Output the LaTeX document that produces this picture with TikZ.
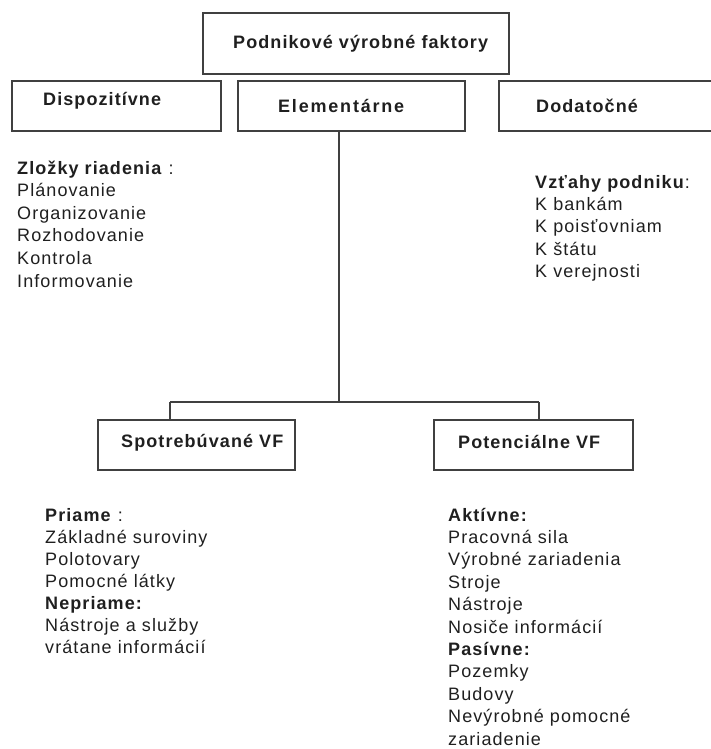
\documentclass[tikz,border=0pt]{standalone}
\usepackage{fontspec}
\setmainfont{Liberation Sans}[LetterSpace=6]
\begin{document}
\begin{tikzpicture}[x=1pt,y=-1pt,
  box/.style={draw=black!75,line width=1.4pt,inner sep=0pt,minimum width=#1,minimum height=50pt},
  box/.default=200pt,
  txt/.style={anchor=base west,inner sep=0pt,text=black!88,font=\fontsize{18}{22}\selectfont},
  hd/.style={txt,font=\fontsize{18}{22}\selectfont\bfseries},
  conn/.style={draw=black!75,line width=1.2pt}]
\useasboundingbox (0,0) rectangle (710,749);
% boxes
\node[box=306pt,minimum height=61pt] (top) at (356,43.5) {};
\node[box=209pt] (disp) at (116.5,106) {};
\node[box=227pt] (elem) at (351.5,106) {};
\node[box=221pt] (doda) at (609.5,106) {};
\node[box=197pt] (spot) at (196.5,445) {};
\node[box=199pt] (pot) at (533.5,445) {};
% box labels
\node[hd] (ttop) at (233,49) {Podnikové výrobné faktory};
\node[hd] (tdisp) at (43,106) {Dispozitívne};
\node[hd,font=\fontsize{18}{22}\selectfont\bfseries\addfontfeature{LetterSpace=10}] (telem) at (278,113) {Elementárne};
\node[hd] (tdoda) at (536,113) {Dodatočné};
\node[hd] (tspot) at (121,447) {Spotrebúvané VF};
\node[hd] (tpot) at (458,448) {Potenciálne VF};
% connectors
\coordinate (j) at (339,402);
\coordinate (jl) at (170,402);
\coordinate (jr) at (539,402);
\draw[conn] (elem.south -| j) -- (j);
\draw[conn] (jl) -- (jr);
\draw[conn] (jl) -- (jl |- spot.north);
\draw[conn] (jr) -- (jr |- pot.north);
% top-left list
\node[txt] (tl0) at (17,174) {\textbf{Zložky riadenia} :};
\foreach \t [count=\i] in {Plánovanie,Organizovanie,Rozhodovanie,Kontrola,Informovanie}
  \node[txt] (tl\i) at (17,174+22.6*\i) {\t};
% top-right list
\node[txt] (tr0) at (535,188) {\textbf{Vzťahy podniku}:};
\foreach \t [count=\i] in {K bankám,K poisťovniam,K štátu,K verejnosti}
  \node[txt] (tr\i) at (535,188+22.4*\i) {\t};
% bottom-left list
\node[txt] (bl0) at (45,521) {\textbf{Priame} :};
\node[txt] (bl1) at (45,543) {Základné suroviny};
\node[txt] (bl2) at (45,565) {Polotovary};
\node[txt] (bl3) at (45,587) {Pomocné látky};
\node[hd] (bl4) at (45,609) {Nepriame:};
\node[txt] (bl5) at (45,631) {Nástroje a služby};
\node[txt] (bl6) at (45,653) {vrátane informácií};
% bottom-right list
\node[hd] (br0) at (448,521) {Aktívne:};
\node[txt] (br1) at (448,543.4) {Pracovná sila};
\node[txt] (br2) at (448,565.8) {Výrobné zariadenia};
\node[txt] (br3) at (448,588.2) {Stroje};
\node[txt] (br4) at (448,610.6) {Nástroje};
\node[txt] (br5) at (448,633) {Nosiče informácií};
\node[hd] (br6) at (448,655.4) {Pasívne:};
\node[txt] (br7) at (448,677.8) {Pozemky};
\node[txt] (br8) at (448,700.2) {Budovy};
\node[txt] (br9) at (448,722.6) {Nevýrobné pomocné};
\node[txt] (br10) at (448,745) {zariadenie};
\end{tikzpicture}
\end{document}
